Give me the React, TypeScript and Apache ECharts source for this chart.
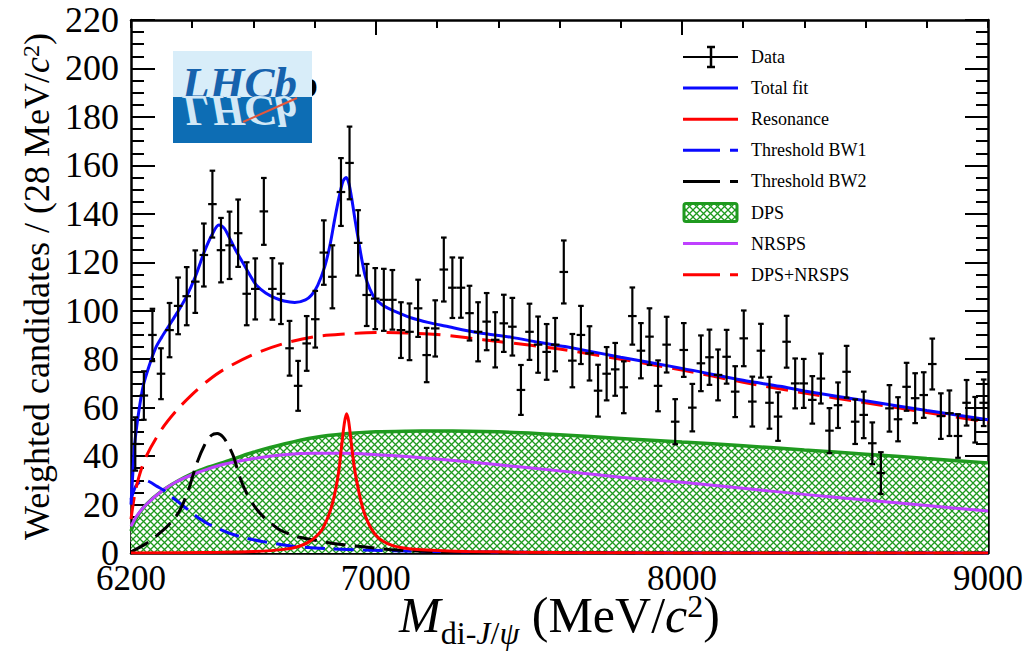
import React, { useEffect, useRef } from 'react';
import * as echarts from 'echarts';

// ---------- axis definition ----------
const xMin = 6200;
const xMax = 9000;
const binWidth = 28; // MeV per bin
const yMin = 0;
const yMax = 220;
const yInterval = 20;
const xMinorInterval = 200;
const xTickLabels = [6200, 7000, 8000, 9000];
const xMajorTicks = [7000, 8000];

// ---------- data (weighted candidates per 28 MeV bin) ----------
const dataValues = [
  45, 65, 90, 74, 92, 102, 106, 112, 123, 144,
  125, 127, 132, 107, 109, 141, 109, 107, 84.5, 69,
  86.5, 96.5, 124, 114, 149, 161, 128, 106.5, 105, 104.5,
  104.5, 92, 91.3, 101, 81.7, 92.7, 117, 109.5, 109.5, 99,
  91.3, 95.5, 88, 94.8, 93.4, 67.3, 91.3, 86, 83, 86,
  116, 79.4, 90, 82.4, 67, 74, 75.8, 68.4, 97.8, 83.5,
  89.3, 69, 86, 54.2, 83.8, 60, 78.3, 80.8, 73.5, 81,
  66.6, 88.6, 62.5, 83.5, 62, 56.3, 87.2, 70, 70, 63.2,
  72, 50.5, 61, 74.8, 54.2, 57, 45.3, 33, 59.7, 55.2,
  68.6, 63.9, 65.2, 78, 56.5, 57.7, 48.3, 62, 55, 62,
];
const dataErrors = [
  11, 10, 10.8, 10.5, 11.2, 11.7, 12, 12.9, 13, 13.8,
  13.3, 13.9, 13.9, 13, 12.6, 13.8, 12.7, 12.5, 11.3, 10.3,
  11.3, 11.7, 13.3, 13, 14, 15, 13.5, 12.8, 12.6, 12.8,
  12.3, 11.5, 11.7, 11.8, 11.2, 11.6, 13.2, 12.5, 12.4, 11.3,
  12.2, 11.8, 11.4, 11.8, 11.9, 10.3, 11.6, 11.6, 11.5, 11,
  13, 11, 12, 11.2, 10.7, 11, 10.9, 10.7, 11.8, 11.4,
  11.7, 10.5, 11.5, 9.3, 11.1, 9.8, 11.5, 11.4, 10.5, 11.1,
  10.5, 11.5, 10.3, 11.1, 10.7, 10, 10.7, 10.3, 10.1, 9.8,
  10.3, 9.3, 9.4, 10.7, 9.2, 9.6, 8.6, 8.6, 9.6, 9.1,
  9.9, 10.3, 9.4, 10.5, 9.4, 9.4, 9, 9.4, 9.4, 9.6,
];

// ---------- fit curves ----------
const totalX = [6200, 6206, 6212, 6225, 6240, 6260, 6280, 6300, 6325, 6350, 6380, 6410, 6440, 6465, 6487, 6505, 6520, 6540, 6560, 6585, 6610, 6640, 6670, 6700, 6735, 6770, 6790, 6810, 6833, 6850, 6865, 6880, 6893, 6903, 6912, 6921, 6932, 6943, 6955, 6965, 6980, 6997, 7020, 7041, 7080, 7117, 7170, 7226, 7335, 7444, 7530, 7618, 7800, 8000, 8200, 8320, 8400, 8600, 8800, 9000];
const totalY = [20, 33, 45, 58, 69, 77.5, 84.5, 89, 94, 99, 105.5, 114, 124.5, 131.5, 135.4, 134, 130.5, 125.5, 121, 115.5, 110.5, 107.3, 105.3, 104, 103.4, 104.5, 106.5, 110.5, 118.2, 127, 137.4, 147, 153.5, 155, 152.5, 146.4, 137.5, 129.2, 120.5, 114.5, 109, 105.1, 102.5, 101, 98.8, 97, 95.2, 93.7, 90.9, 89, 87, 85.2, 80.8, 76.2, 71.3, 68.8, 66.9, 62.8, 58.8, 55];

const resonanceX = [6200, 6500, 6600, 6700, 6750, 6780, 6800, 6825, 6850, 6865, 6878, 6888, 6897, 6904, 6911, 6920, 6930, 6940, 6952, 6965, 6985, 7010, 7040, 7080, 7150, 7300, 7600, 8000, 9000];
const resonanceY = [0, 0.3, 0.6, 1.5, 2.8, 4.5, 6.3, 9.8, 17, 24, 33, 44, 53.5, 57.5, 54.5, 45, 35, 28, 21, 15.5, 10, 6, 3.8, 2.3, 1.3, 0.6, 0.2, 0.05, 0];

const bw1X = [6200, 6215, 6230, 6245, 6262, 6285, 6306, 6335, 6360, 6390, 6415, 6460, 6523, 6580, 6632, 6690, 6741, 6850, 6959, 7100, 7286, 7600, 8000, 9000];
const bw1Y = [22, 27.5, 29.5, 30, 29.3, 27.5, 26, 23, 20.5, 17.5, 15, 11.5, 8.1, 6, 4.7, 3.5, 2.6, 1.7, 1.2, 0.8, 0.5, 0.25, 0.1, 0];

const bw2X = [6200, 6251, 6306, 6340, 6360, 6385, 6415, 6440, 6462, 6482, 6500, 6518, 6535, 6555, 6578, 6605, 6632, 6660, 6687, 6740, 6796, 6880, 6959, 7068, 7200, 7400, 7800, 9000];
const bw2Y = [0.5, 4, 9.5, 14, 17.7, 25, 37, 44.5, 48.5, 49.3, 48, 44.5, 39.8, 31.5, 24.6, 19, 15, 12, 9.5, 6.8, 5.4, 3.6, 2.6, 1.2, 0.6, 0.2, 0.05, 0];

const dpsX = [6200, 6220, 6250, 6300, 6350, 6400, 6450, 6500, 6550, 6600, 6700, 6800, 6900, 7000, 7100, 7200, 7300, 7400, 7500, 7600, 7800, 8000, 8200, 8400, 8600, 8800, 9000];
const dpsY = [9, 15, 20, 25.5, 29.5, 32.8, 35.3, 37.3, 39.5, 41.6, 45, 47.7, 49.2, 50, 50.3, 50.4, 50.3, 50, 49.5, 48.8, 47.3, 45.8, 44.3, 42.5, 40.8, 39, 37.2];

const nrspsX = [6200, 6220, 6250, 6300, 6350, 6400, 6450, 6500, 6600, 6700, 6800, 6900, 7000, 7100, 7200, 7400, 7600, 7800, 8000, 8200, 8400, 8600, 8800, 9000];
const nrspsY = [11, 15.5, 20, 25.5, 29.5, 32.3, 34.6, 36.5, 39, 40.6, 41.2, 41.2, 40.6, 39.8, 38.8, 36.4, 33.9, 31.3, 29.2, 26.7, 24.2, 21.9, 19.6, 17.3];

const bkgX = [6200, 6212, 6225, 6250, 6300, 6350, 6400, 6450, 6500, 6600, 6700, 6800, 6900, 7000, 7100, 7200, 7300, 7400, 7600, 7800, 8000, 8200, 8400, 8600, 8800, 9000];
const bkgY = [14, 24, 31, 40, 51, 59, 65.5, 71, 75.5, 82, 86.5, 89.3, 90.4, 91, 90.8, 90.2, 88.8, 87.3, 84.2, 80, 75.5, 70.5, 66, 62, 58, 54];

const legendLabels = ['Data', 'Total fit', 'Resonance', 'Threshold BW1', 'Threshold BW2', 'DPS', 'NRSPS', 'DPS+NRSPS'];

// ---------- styles ----------
const FONT = '"Liberation Serif", "Times New Roman", serif';
const BLUE = '#0a0aff';
const RED = '#ff0000';
const BLACK = '#000000';
const GREEN = '#1f9a1f';
const VIOLET = '#bf40ff';

const pairs = (xs: number[], ys: number[]) => xs.map((x, i) => [x, ys[i]]);

function makeHatch() {
  const size = 7;
  const c = document.createElement('canvas');
  c.width = size;
  c.height = size;
  const ctx = c.getContext('2d')!;
  ctx.fillStyle = '#ffffff';
  ctx.fillRect(0, 0, size, size);
  ctx.strokeStyle = GREEN;
  ctx.lineWidth = 1.3;
  ctx.beginPath();
  ctx.moveTo(-1, -1);
  ctx.lineTo(size + 1, size + 1);
  ctx.moveTo(-1, size + 1);
  ctx.lineTo(size + 1, -1);
  ctx.stroke();
  return { image: c.toDataURL(), repeat: 'repeat', imageWidth: size, imageHeight: size } as any;
}

export default function App() {
  const ref = useRef<HTMLDivElement>(null);

  useEffect(() => {
    if (!ref.current) return;
    const chart = echarts.init(ref.current, undefined, { renderer: 'svg' });
    const hatch = makeHatch();
    const binCenters = dataValues.map((_, i) => xMin + binWidth * (i + 0.5));

    const lineBase = {
      type: 'line' as const,
      showSymbol: false,
      symbol: 'none',
      smooth: 0.3,
      silent: true,
      xAxisIndex: 0,
      yAxisIndex: 0,
    };

    const axisLine = { show: true, lineStyle: { color: BLACK, width: 2.5 } };
    const tickStyle = { color: BLACK, width: 2 };
    const plainNum = (v: number) => String(v);

    // legend built from graphic elements
    const lx0 = 683;
    const lx1 = 738;
    const ltx = 751;
    const rowY = (i: number) => 57 + i * 31.1;
    const legendGraphics: any[] = [];
    const lineSym = (i: number, color: string, dashed: boolean) => ({
      type: 'line',
      shape: { x1: lx0, y1: rowY(i), x2: lx1, y2: rowY(i) },
      style: { stroke: color, lineWidth: 3, lineDash: dashed ? [37, 10] : null },
      z: 100,
    });
    const r0 = rowY(0);
    legendGraphics.push(
      { type: 'line', shape: { x1: lx0, y1: r0, x2: lx1, y2: r0 }, style: { stroke: BLACK, lineWidth: 2 }, z: 100 },
      { type: 'line', shape: { x1: 711, y1: r0 - 10, x2: 711, y2: r0 + 10 }, style: { stroke: BLACK, lineWidth: 2.5 }, z: 100 },
      { type: 'line', shape: { x1: 707, y1: r0 - 10, x2: 715, y2: r0 - 10 }, style: { stroke: BLACK, lineWidth: 2.5 }, z: 100 },
      { type: 'line', shape: { x1: 707, y1: r0 + 10, x2: 715, y2: r0 + 10 }, style: { stroke: BLACK, lineWidth: 2.5 }, z: 100 },
    );
    legendGraphics.push(lineSym(1, BLUE, false));
    legendGraphics.push(lineSym(2, RED, false));
    legendGraphics.push(lineSym(3, BLUE, true));
    legendGraphics.push(lineSym(4, BLACK, true));
    legendGraphics.push({
      type: 'rect',
      shape: { x: lx0 + 1, y: rowY(5) - 9, width: lx1 - lx0 - 2, height: 18, r: 2 },
      style: { fill: hatch, stroke: GREEN, lineWidth: 3 },
      z: 100,
    });
    legendGraphics.push(lineSym(6, VIOLET, false));
    legendGraphics.push(lineSym(7, RED, true));
    legendLabels.forEach((label, i) => {
      legendGraphics.push({
        type: 'text',
        style: {
          text: label,
          x: ltx,
          y: rowY(i),
          fill: BLACK,
          fontFamily: FONT,
          fontSize: 18,
          textVerticalAlign: 'middle',
          verticalAlign: 'middle',
        },
        z: 100,
      });
    });

    // LHCb logo
    const logo: any[] = [
      { type: 'text', style: { text: 'b', x: 318, y: 103, fill: BLACK, fontFamily: FONT, fontWeight: 'bold', fontSize: 38, align: 'right', textAlign: 'right', verticalAlign: 'bottom', textVerticalAlign: 'bottom' }, z: 98 },
      { type: 'rect', shape: { x: 173, y: 51, width: 139, height: 46 }, style: { fill: '#d8edf9' }, z: 99 },
      { type: 'rect', shape: { x: 173, y: 97, width: 139, height: 46 }, style: { fill: '#0d6db4' }, z: 99 },
      { type: 'text', x: 182, y: 97, style: { text: 'LHCb', x: 0, y: -14, fill: '#1662ad', fontFamily: FONT, fontStyle: 'italic', fontWeight: 'bold', fontSize: 45, verticalAlign: 'middle', textVerticalAlign: 'middle' }, z: 100 },
      { type: 'text', x: 182, y: 97, scaleY: -1, style: { text: 'LHCb', x: 0, y: -14, fill: '#d2e8f6', fontFamily: FONT, fontStyle: 'italic', fontWeight: 'bold', fontSize: 45, verticalAlign: 'middle', textVerticalAlign: 'middle' }, z: 100 },
      { type: 'line', shape: { x1: 243, y1: 122, x2: 297, y2: 98 }, style: { stroke: '#e4573c', lineWidth: 2 }, z: 101 },
    ];

    const option: any = {
      animation: false,
      backgroundColor: '#ffffff',
      grid: { left: 131, right: 39, top: 20, bottom: 100, containLabel: false, outerBoundsMode: 'none' },
      xAxis: [
        {
          type: 'value', position: 'bottom', min: xMin, max: xMax,
          axisLine,
          axisTick: { show: true, inside: true, length: 24, customValues: xMajorTicks, lineStyle: tickStyle },
          axisLabel: { customValues: xTickLabels, formatter: plainNum, fontFamily: FONT, fontSize: 35, lineHeight: 28, color: BLACK, margin: 11 },
          splitLine: { show: false },
          name: '{mi|M}{sub|di-}{subi|J}{sub|/}{subi|ψ}{n| (MeV/}{ci|c}{sup|2}{n|)}',
          nameLocation: 'middle',
          nameGap: 37,
          nameMoveOverlap: false,
          nameTextStyle: {
            fontFamily: FONT, fontSize: 50, color: BLACK,
            rich: {
              mi: { fontFamily: FONT, fontSize: 50, fontStyle: 'italic', lineHeight: 50, verticalAlign: 'top' },
              n: { fontFamily: FONT, fontSize: 50, lineHeight: 50, verticalAlign: 'top' },
              ci: { fontFamily: FONT, fontSize: 50, fontStyle: 'italic', lineHeight: 50, verticalAlign: 'top' },
              sub: { fontFamily: FONT, fontSize: 32, lineHeight: 30, padding: [27, 0, 0, 0], verticalAlign: 'top' },
              subi: { fontFamily: FONT, fontSize: 32, fontStyle: 'italic', lineHeight: 30, padding: [27, 0, 0, 0], verticalAlign: 'top' },
              sup: { fontFamily: FONT, fontSize: 32, lineHeight: 32, verticalAlign: 'top' },
            },
          },
        },
        {
          type: 'value', position: 'bottom', min: xMin, max: xMax, interval: xMinorInterval,
          axisLine: { show: false },
          axisTick: { show: true, inside: true, length: 11, lineStyle: tickStyle },
          axisLabel: { show: false }, splitLine: { show: false },
        },
        {
          type: 'value', position: 'top', min: xMin, max: xMax,
          axisLine,
          axisTick: { show: true, inside: true, length: 15, customValues: xMajorTicks, lineStyle: tickStyle },
          axisLabel: { show: false }, splitLine: { show: false },
        },
        {
          type: 'value', position: 'top', min: xMin, max: xMax, interval: xMinorInterval,
          axisLine: { show: false },
          axisTick: { show: true, inside: true, length: 8, lineStyle: tickStyle },
          axisLabel: { show: false }, splitLine: { show: false },
        },
      ],
      yAxis: [
        {
          type: 'value', position: 'left', min: yMin, max: yMax, interval: yInterval,
          axisLine,
          axisTick: { show: true, inside: true, length: 24, lineStyle: tickStyle },
          minorTick: { show: true, splitNumber: 4, length: 13, lineStyle: tickStyle },
          axisLabel: { formatter: plainNum, fontFamily: FONT, fontSize: 36, lineHeight: 24, color: BLACK, margin: 12 },
          splitLine: { show: false },
          name: 'Weighted candidates / (28 MeV/{ci|c}{sup|2})',
          nameLocation: 'middle',
          nameRotate: 90,
          nameGap: 76,
          nameMoveOverlap: false,
          nameTextStyle: {
            fontFamily: FONT, fontSize: 36, color: BLACK,
            rich: {
              ci: { fontFamily: FONT, fontSize: 36, fontStyle: 'italic' },
              sup: { fontFamily: FONT, fontSize: 24, verticalAlign: 'top' },
            },
          },
        },
        {
          type: 'value', position: 'right', min: yMin, max: yMax, interval: yInterval,
          axisLine,
          axisTick: { show: true, inside: true, length: 23, lineStyle: tickStyle },
          minorTick: { show: true, splitNumber: 4, length: 12, lineStyle: tickStyle },
          axisLabel: { show: false }, splitLine: { show: false },
        },
      ],
      series: [
        {
          ...lineBase, name: 'DPS', data: pairs(dpsX, dpsY), z: 2,
          lineStyle: { color: GREEN, width: 3.5 },
          areaStyle: { color: hatch, opacity: 1 },
        },
        { ...lineBase, name: 'NRSPS', data: pairs(nrspsX, nrspsY), z: 3, lineStyle: { color: VIOLET, width: 3 } },
        { ...lineBase, name: 'Threshold BW1', data: pairs(bw1X, bw1Y), z: 4, lineStyle: { color: BLUE, width: 3, type: [20, 9] } },
        { ...lineBase, name: 'Threshold BW2', data: pairs(bw2X, bw2Y), z: 4, lineStyle: { color: BLACK, width: 3, type: [20, 9] } },
        { ...lineBase, name: 'Resonance', data: pairs(resonanceX, resonanceY), z: 5, lineStyle: { color: RED, width: 3 } },
        { ...lineBase, name: 'DPS+NRSPS', data: pairs(bkgX, bkgY), z: 5, lineStyle: { color: RED, width: 3, type: [22, 10] } },
        { ...lineBase, name: 'Total fit', data: pairs(totalX, totalY), z: 6, lineStyle: { color: BLUE, width: 3 } },
        {
          type: 'custom',
          name: 'Data',
          xAxisIndex: 0,
          yAxisIndex: 0,
          z: 10,
          silent: true,
          data: binCenters.map((x, i) => [x, dataValues[i], dataErrors[i]]),
          encode: { x: 0, y: 1 },
          renderItem: (_params: any, api: any) => {
            const x = api.value(0);
            const y = api.value(1);
            const e = api.value(2);
            const c = api.coord([x, y]);
            const top = api.coord([x, y + e]);
            const bot = api.coord([x, y - e]);
            const l = api.coord([x - binWidth / 2, y]);
            const r = api.coord([x + binWidth / 2, y]);
            const style = { stroke: BLACK, lineWidth: 2.2 };
            return {
              type: 'group',
              children: [
                { type: 'line', shape: { x1: c[0], y1: top[1], x2: c[0], y2: bot[1] }, style },
                { type: 'line', shape: { x1: l[0], y1: c[1], x2: r[0], y2: c[1] }, style },
                { type: 'line', shape: { x1: c[0] - 2.8, y1: top[1], x2: c[0] + 2.8, y2: top[1] }, style },
                { type: 'line', shape: { x1: c[0] - 2.8, y1: bot[1], x2: c[0] + 2.8, y2: bot[1] }, style },
              ],
            };
          },
        },
      ],
      graphic: [...logo, ...legendGraphics],
    };

    chart.setOption(option);
    return () => {
      chart.dispose();
    };
  }, []);

  return (
    <div
      ref={ref}
      style={{ position: 'fixed', left: 0, top: 0, width: 1027, height: 653, background: '#ffffff' }}
    />
  );
}
